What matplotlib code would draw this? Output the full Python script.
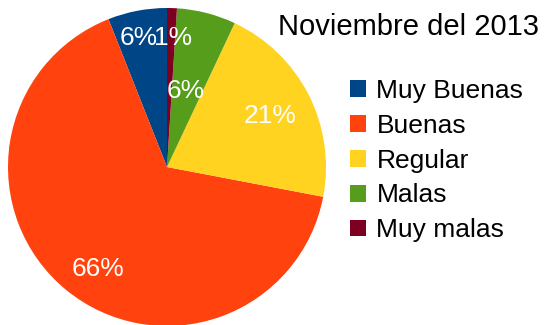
# Encuesta de noviembre 2013: gráfico de pastel con leyenda
import numpy as np
import matplotlib.pyplot as plt
from matplotlib.patches import Patch

plt.rcParams['font.family'] = ['Liberation Sans', 'DejaVu Sans']

categorias = ['Muy Buenas', 'Buenas', 'Regular', 'Malas', 'Muy malas']
porcentajes = [6, 66, 21, 6, 1]
colores = ['#004586', '#ff420e', '#ffd320', '#579d1c', '#7e0021']
# distancia radial y giro (grados) de cada etiqueta
dist_etiqueta = [0.846, 0.76, 0.728, 0.506, 0.828]
giro_etiqueta = [1.3, 4.9, 0.6, 1.1, -0.7]
titulo = 'Noviembre del 2013'

fig = plt.figure(figsize=(5.44, 3.25), dpi=100)
W, H = 544, 325
ax = fig.add_axes([8 / W, -1 / H, 318 / W, 318 / H])

cunas, _ = ax.pie(porcentajes, colors=colores, startangle=90,
                  counterclock=True, radius=1,
                  wedgeprops=dict(linewidth=0))
ax.set_xlim(-1, 1)
ax.set_ylim(-1, 1)
ax.set_aspect('equal')

for c, p, d, g in zip(cunas, porcentajes, dist_etiqueta, giro_etiqueta):
    ang = np.deg2rad((c.theta1 + c.theta2) / 2 + g)
    ax.text(d * np.cos(ang), d * np.sin(ang), '%d%%' % p,
            ha='center', va='center_baseline', color='white', fontsize=19)

fig.text(409 / W, 1 - 35 / H, titulo, ha='center', va='baseline', fontsize=21)

handles = [Patch(facecolor=c, edgecolor='none') for c in colores]
fig.legend(handles, categorias, loc='upper left',
           bbox_to_anchor=(350 / W, 1 - 79 / H), frameon=False,
           fontsize=19, handlelength=0.6, handleheight=0.6,
           handletextpad=0.4, labelspacing=0.41, borderpad=0,
           borderaxespad=0)

fig.savefig('out.png', dpi=100)
